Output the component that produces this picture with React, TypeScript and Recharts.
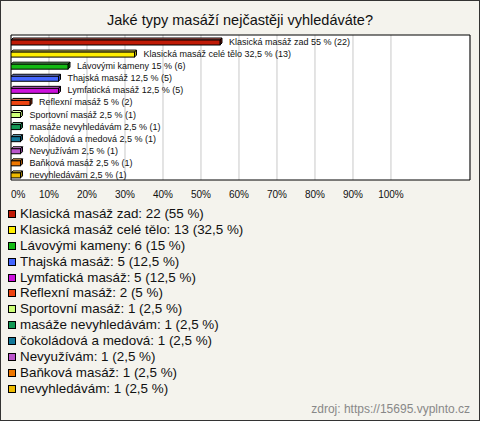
import React from "react";
import {
  BarChart,
  Bar,
  XAxis,
  YAxis,
  CartesianGrid,
  ReferenceArea,
  LabelList,
} from "recharts";

const TITLE = "Jaké typy masáží nejčastěji vyhledáváte?";
const SOURCE = "zdroj: https://15695.vyplnto.cz";

const categories = [
  "Klasická masáž zad",
  "Klasická masáž celé tělo",
  "Lávovými kameny",
  "Thajská masáž",
  "Lymfatická masáž",
  "Reflexní masáž",
  "Sportovní masáž",
  "masáže nevyhledávám",
  "čokoládová a medová",
  "Nevyužívám",
  "Baňková masáž",
  "nevyhledávám",
];
const counts = [22, 13, 6, 5, 5, 2, 1, 1, 1, 1, 1, 1];
const percents = [55, 32.5, 15, 12.5, 12.5, 5, 2.5, 2.5, 2.5, 2.5, 2.5, 2.5];
const colors = [
  "#c01a06",
  "#ffee00",
  "#14bb14",
  "#4466ff",
  "#cc11dd",
  "#ee4411",
  "#ccff77",
  "#119955",
  "#117799",
  "#bb55cc",
  "#ee7700",
  "#eebb00",
];
const xTicks = [0, 10, 20, 30, 40, 50, 60, 70, 80, 90, 100];
const X_MAX = 120.8;

const FONT = "'Liberation Sans', Arial, sans-serif";

const fmt = (v: number) => String(v).replace(".", ",");

const data = categories.map((name, i) => ({
  name,
  value: percents[i],
  count: counts[i],
  color: colors[i],
}));

function shade(hex: string, f: number) {
  const n = parseInt(hex.slice(1), 16);
  let r = (n >> 16) & 255,
    g = (n >> 8) & 255,
    b = n & 255;
  if (f > 0) {
    r = Math.round(r + (255 - r) * f);
    g = Math.round(g + (255 - g) * f);
    b = Math.round(b + (255 - b) * f);
  } else {
    r = Math.round(r * (1 + f));
    g = Math.round(g * (1 + f));
    b = Math.round(b * (1 + f));
  }
  return `rgb(${r},${g},${b})`;
}

const Bar3D = (props: any) => {
  const { x, y, width, height, payload } = props;
  const d = 2;
  const c = payload.color;
  const yy = y + 1;
  const w = width;
  const h = height;
  return (
    <g stroke="#000" strokeWidth={1} strokeLinejoin="miter">
      <polygon
        points={`${x},${yy} ${x + d},${yy - d} ${x + w + d},${yy - d} ${x + w},${yy}`}
        fill={shade(c, 0.35)}
      />
      <polygon
        points={`${x + w},${yy} ${x + w + d},${yy - d} ${x + w + d},${yy + h - d} ${x + w},${yy + h}`}
        fill={shade(c, -0.3)}
      />
      <rect x={x} y={yy} width={w} height={h} fill={c} />
    </g>
  );
};

const BarLabel = (props: any) => {
  const { x, y, width, height, index } = props;
  return (
    <text
      x={x + width + 9}
      y={y + height / 2 + 0.5}
      fontSize={9}
      fontFamily={FONT}
      fill="#111"
      dominantBaseline="central"
    >
      {`${categories[index]} ${fmt(percents[index])} % (${counts[index]})`}
    </text>
  );
};

const XTick = (props: any) => {
  const { x, y, payload, index } = props;
  return (
    <text
      x={x}
      y={y}
      fontSize={10}
      fontFamily={FONT}
      fill="#111"
      textAnchor={index === 0 ? "start" : "middle"}
      dominantBaseline="central"
    >
      {`${payload.value}%`}
    </text>
  );
};

export default function App() {
  return (
    <div
      style={{
        position: "absolute",
        left: 0,
        top: 0,
        width: 480,
        height: 421,
        background: "#f4f3ed",
        outline: "1px solid #333",
        outlineOffset: -1,
        fontFamily: FONT,
      }}
    >
      <div
        style={{
          position: "absolute",
          top: 12,
          left: 0,
          width: 480,
          textAlign: "center",
          fontSize: 14.5,
          lineHeight: "17px",
          color: "#111",
        }}
      >
        {TITLE}
      </div>
      <div style={{ position: "absolute", left: 0, top: 0 }}>
        <BarChart
          width={480}
          height={200}
          data={data}
          layout="vertical"
          margin={{ top: 35, left: 11, right: 10, bottom: 0 }}
          barCategoryGap={0}
        >
          <CartesianGrid
            horizontal={false}
            vertical={true}
            stroke="#c8c8c8"
            fill="#ffffff"
          />
          <XAxis
            type="number"
            domain={[0, X_MAX]}
            ticks={xTicks}
            allowDataOverflow
            axisLine={false}
            tickLine={false}
            height={20}
            tick={<XTick />}
            tickMargin={8}
            interval={0}
          />
          <YAxis type="category" dataKey="name" hide width={0} />
          <ReferenceArea
            x1={0}
            x2={X_MAX}
            fill="none"
            stroke="#000"
            strokeWidth={1}
            ifOverflow="visible"
          />
          <Bar
            dataKey="value"
            barSize={5}
            shape={<Bar3D />}
            isAnimationActive={false}
          >
            <LabelList dataKey="value" content={<BarLabel />} />
          </Bar>
        </BarChart>
      </div>
      <div
        style={{
          position: "absolute",
          left: 8,
          top: 206,
          fontFamily: FONT,
          fontSize: 13.4,
          color: "#111",
        }}
      >
        {categories.map((name, i) => (
          <div
            key={name}
            style={{
              height: 15.9,
              lineHeight: "15.9px",
              display: "flex",
              alignItems: "center",
              whiteSpace: "nowrap",
            }}
          >
            <span
              style={{
                display: "inline-block",
                width: 6,
                height: 6,
                border: "1px solid #000",
                background: colors[i],
                marginRight: 4,
              }}
            />
            <span>{`${name}: ${counts[i]} (${fmt(percents[i])} %)`}</span>
          </div>
        ))}
      </div>
      <div
        style={{
          position: "absolute",
          right: 10,
          top: 401,
          fontSize: 12,
          lineHeight: "16px",
          color: "#888",
          whiteSpace: "nowrap",
        }}
      >
        {SOURCE}
      </div>
    </div>
  );
}
